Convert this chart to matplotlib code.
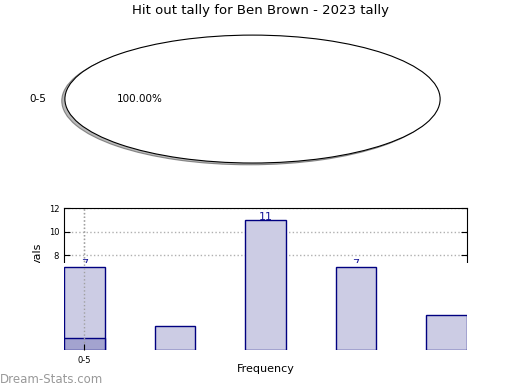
import matplotlib
matplotlib.use("Agg")
import matplotlib.pyplot as plt
from matplotlib.patches import Rectangle

title = "Hit out tally for Ben Brown - 2023 tally"
pie_labels = ["0-5"]
pie_vals = [1]

bar_vals = [7, 2, 11, 7, 3]
bar_highlight = [1]
xtick_labels = ["0-5"]
yticks = [0, 2, 4, 6, 8, 10, 12]

navy = "#000080"

fig = plt.figure(figsize=(5.2, 3.9), dpi=100)
fig.patch.set_facecolor("white")

# pie on top
ax_pie = fig.add_axes([0.0346, 0.541, 0.902, 0.41])
ax_pie.pie(pie_vals, labels=pie_labels, autopct="%.2f%%", colors=["white"],
           shadow={"ox": -0.012, "oy": -0.02, "facecolor": "0.55", "alpha": 0.6},
           wedgeprops={"edgecolor": "black", "linewidth": 0.8},
           textprops={"fontsize": 7.5})
ax_pie.set_aspect("auto")
ax_pie.set_xlim(-1.25, 1.25)
ax_pie.set_ylim(-1.25, 1.25)

fig.text(0.5, 0.974, title, ha="center", va="center", fontsize=9.5)

# bar chart frame (grid, spines, labels)
rect = [64 / 520, 40 / 390, 403 / 520, 142 / 390]
ax = fig.add_axes(rect, zorder=0)
xs = list(range(len(bar_vals)))
ax.set_xlim(-0.225, 4.225)
ax.set_ylim(0, 12)
ax.set_yticks(yticks)
ax.set_xticks([0])
ax.set_xticklabels([])
ax.tick_params(direction="in", length=4, labelsize=6, right=True, top=False,
               bottom=False)
ax.grid(True, linestyle=":", color="#b0b0b0", linewidth=1)
ax.set_ylabel("vals", fontsize=8)
ax.yaxis.set_label_coords(-0.052, 0.675)
for x, v in zip(xs, bar_vals):
    ax.text(x, v + 0.25, str(v), ha="center", va="center", fontsize=8,
            color="#1a1a9a")

# white block covering lower part of the frame
fig.add_artist(Rectangle((0, 35 / 390), 470 / 520, (355 - 263) / 390,
                         transform=fig.transFigure, facecolor="white",
                         edgecolor="none", zorder=1))

# bars drawn on top
ax2 = fig.add_axes(rect, zorder=2)
ax2.patch.set_visible(False)
for s in ax2.spines.values():
    s.set_visible(False)
ax2.bar(xs, bar_vals, width=0.45, color="#ccccE4", edgecolor=navy, linewidth=1)
ax2.bar(xs[:len(bar_highlight)], bar_highlight, width=0.45, color="#a3a3cf",
        edgecolor=navy, linewidth=1)
ax2.set_xlim(-0.225, 4.225)
ax2.set_ylim(0, 12)
ax2.set_yticks([])
ax2.set_xticks([0])
ax2.set_xticklabels(xtick_labels)
ax2.tick_params(direction="in", length=4, labelsize=6, pad=4)
ax2.set_axisbelow(False)
ax2.grid(True, axis="x", linestyle=":", color="#a0a0a0", linewidth=1)
ax2.set_xlabel("Frequency", fontsize=8)
ax2.xaxis.set_label_coords(0.5, -0.099)

fig.text(0.0, 0.026, "Dream-Stats.com", ha="left", va="center", fontsize=8.5,
         color="#999999")

fig.savefig("out.png", dpi=100)
